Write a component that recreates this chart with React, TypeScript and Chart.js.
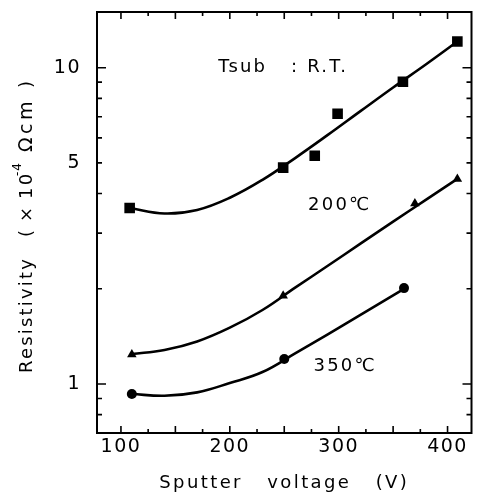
import React, { useEffect, useRef } from "react";
import { Chart, registerables } from "chart.js";

Chart.register(...registerables);

// Measured points (markers)
const RT_X = [108, 249, 278, 299, 359, 409];
const RT_Y = [3.6, 4.83, 5.27, 7.15, 9.03, 12.1];
const T200_X = [110, 249, 370, 409];
const T200_Y = [1.24, 1.9, 3.72, 4.45];
const T350_X = [110, 250, 360];
const T350_Y = [0.93, 1.2, 2.01];

// Fitted curves
const RT_FIT_X = [108, 140, 170, 200, 230, 260, 290, 320, 350, 380, 409];
const RT_FIT_Y = [3.6, 3.46, 3.55, 3.88, 4.42, 5.18, 6.13, 7.29, 8.66, 10.24, 12.1];
const T200_FIT_X = [110, 140, 170, 200, 230, 260, 290, 320, 350, 380, 409];
const T200_FIT_Y = [1.244, 1.281, 1.363, 1.507, 1.714, 2.016, 2.365, 2.777, 3.26, 3.82, 4.45];
const T350_FIT_X = [110, 140, 170, 200, 230, 260, 290, 320, 350, 360];
const T350_FIT_Y = [0.93, 0.918, 0.941, 1.007, 1.091, 1.249, 1.435, 1.653, 1.906, 2.0];

// Axis ticks and labels
const X_LABELS = [100, 200, 300, 400];
const X_MAJOR = [100, 150, 200, 250, 300, 350, 400];
const X_MINOR = [125, 175, 225, 275, 325, 375];
const Y_LABELS = [1, 5, 10];
const Y_MAJOR = [1, 10];
const Y_MINOR = [0.8, 0.9, 2, 3, 4, 5, 6, 7, 8, 9];

const X_TITLE = "Sputter   voltage   (V)";
// y title pieces: [text, offset along axis from bottom end, fontSize, raise, spacing]
const Y_TITLE_PARTS: [string, number, number, number, number][] = [
  ["Resistivity", 0, 18, 0, 2.2],
  ["(", 136, 18, 0, 0],
  ["\u00d7", 151, 18, 0, 0],
  ["10", 174, 18, 0, 2.2],
  ["-4", 197, 12, 9, 1],
  ["\u03a9cm", 221, 19, 0, 3.5],
  [")", 285, 18, 0, 0],
];
const ANNOTATIONS = [
  { text: "Tsub   : R.T.", x: 249, y: 10 },
  { text: "200\u2103", x: 301, y: 3.68 },
  { text: "350\u2103", x: 306, y: 1.14 },
];

const FONT = '"DejaVu Sans", Verdana, sans-serif';

const pts = (xs: number[], ys: number[]) => xs.map((x, i) => ({ x, y: ys[i] }));

const framePlugin = {
  id: "frame",
  beforeDraw(chart: any) {
    (chart.ctx as any).letterSpacing = "1.5px";
  },
  afterDraw(chart: any) {
    const { ctx, chartArea: a, scales } = chart;
    const xs = scales.x;
    const ys = scales.y;
    ctx.save();
    (ctx as any).letterSpacing = "0px";
    ctx.strokeStyle = "#000";
    ctx.lineWidth = 2;
    ctx.strokeRect(a.left, a.top, a.right - a.left, a.bottom - a.top);
    ctx.lineWidth = 1.6;
    ctx.beginPath();
    const xt = (vals: number[], len: number) => {
      for (const v of vals) {
        const p = xs.getPixelForValue(v);
        ctx.moveTo(p, a.bottom);
        ctx.lineTo(p, a.bottom - len);
        ctx.moveTo(p, a.top);
        ctx.lineTo(p, a.top + len);
      }
    };
    const yt = (vals: number[], len: number) => {
      for (const v of vals) {
        const p = ys.getPixelForValue(v);
        ctx.moveTo(a.left, p);
        ctx.lineTo(a.left + len, p);
        ctx.moveTo(a.right, p);
        ctx.lineTo(a.right - len, p);
      }
    };
    xt(X_MAJOR, 7);
    xt(X_MINOR, 4);
    yt(Y_MAJOR, 9);
    yt(Y_MINOR, 5);
    ctx.stroke();

    ctx.fillStyle = "#000";
    (ctx as any).letterSpacing = "2.2px";
    ctx.font = `18px ${FONT}`;
    ctx.textAlign = "center";
    ctx.textBaseline = "middle";
    for (const an of ANNOTATIONS) {
      ctx.fillText(an.text, xs.getPixelForValue(an.x), ys.getPixelForValue(an.y));
    }
    // x title
    (ctx as any).letterSpacing = "2.4px";
    ctx.fillText(X_TITLE, (a.left + a.right) / 2, 483);
    // y title
    ctx.save();
    ctx.translate(27, 373);
    ctx.rotate(-Math.PI / 2);
    ctx.textAlign = "left";
    for (const [t, u, size, raise, sp] of Y_TITLE_PARTS) {
      ctx.font = `${size}px ${FONT}`;
      (ctx as any).letterSpacing = `${sp}px`;
      ctx.fillText(t, u, -raise);
    }
    ctx.restore();
    ctx.restore();
  },
};

export default function App() {
  const ref = useRef<HTMLCanvasElement>(null);
  useEffect(() => {
    if (!ref.current) return;
    const line = (xs: number[], ys: number[]) => ({
      data: pts(xs, ys),
      showLine: true,
      borderColor: "#000",
      borderWidth: 2.6,
      pointRadius: 0,
      tension: 0.4,
      fill: false,
    });
    const marks = (xs: number[], ys: number[], style: string, r: number) => ({
      data: pts(xs, ys),
      showLine: false,
      pointStyle: style,
      pointRadius: r,
      backgroundColor: "#000",
      borderColor: "#000",
      borderWidth: 0,
    });
    const tickFont = { family: FONT, size: 19 };
    const chart = new Chart(ref.current, {
      type: "scatter",
      data: {
        datasets: [
          line(RT_FIT_X, RT_FIT_Y),
          line(T200_FIT_X, T200_FIT_Y),
          line(T350_FIT_X, T350_FIT_Y),
          marks(RT_X, RT_Y, "rect", 7.5),
          marks(T200_X, T200_Y, "triangle", 5.5),
          marks(T350_X, T350_Y, "circle", 5),
        ] as any,
      },
      options: {
        responsive: false,
        animation: false,
        devicePixelRatio: 1,
        layout: { padding: { left: 0, right: 7, top: 12, bottom: 0 } },
        plugins: { legend: { display: false }, tooltip: { enabled: false } },
        scales: {
          x: {
            type: "linear",
            min: 78,
            max: 422,
            grid: { display: false, drawTicks: false },
            border: { display: false },
            afterBuildTicks: (s: any) => {
              s.ticks = X_LABELS.map((v) => ({ value: v }));
            },
            afterFit: (s: any) => {
              s.height = 61;
              s.paddingLeft = 0;
              s.paddingRight = 0;
            },
            ticks: {
              font: tickFont,
              color: "#000",
              padding: 3,
              maxRotation: 0,
              autoSkip: false,
              callback: (v: any) => String(v),
            },
          },
          y: {
            type: "logarithmic",
            min: 0.7,
            max: 15,
            grid: { display: false, drawTicks: false },
            border: { display: false },
            afterBuildTicks: (s: any) => {
              s.ticks = Y_LABELS.map((v) => ({ value: v }));
            },
            afterFit: (s: any) => {
              s.width = 97;
              s.paddingTop = 0;
              s.paddingBottom = 0;
            },
            ticks: {
              font: tickFont,
              color: "#000",
              padding: 16,
              autoSkip: false,
              callback: (v: any) => String(v),
            },
          },
        },
      } as any,
      plugins: [framePlugin],
    });
    return () => chart.destroy();
  }, []);
  return (
    <div style={{ position: "fixed", left: 0, top: 0, width: 479, height: 494, background: "#fff" }}>
      <canvas ref={ref} width={479} height={494} style={{ display: "block" }} />
    </div>
  );
}
